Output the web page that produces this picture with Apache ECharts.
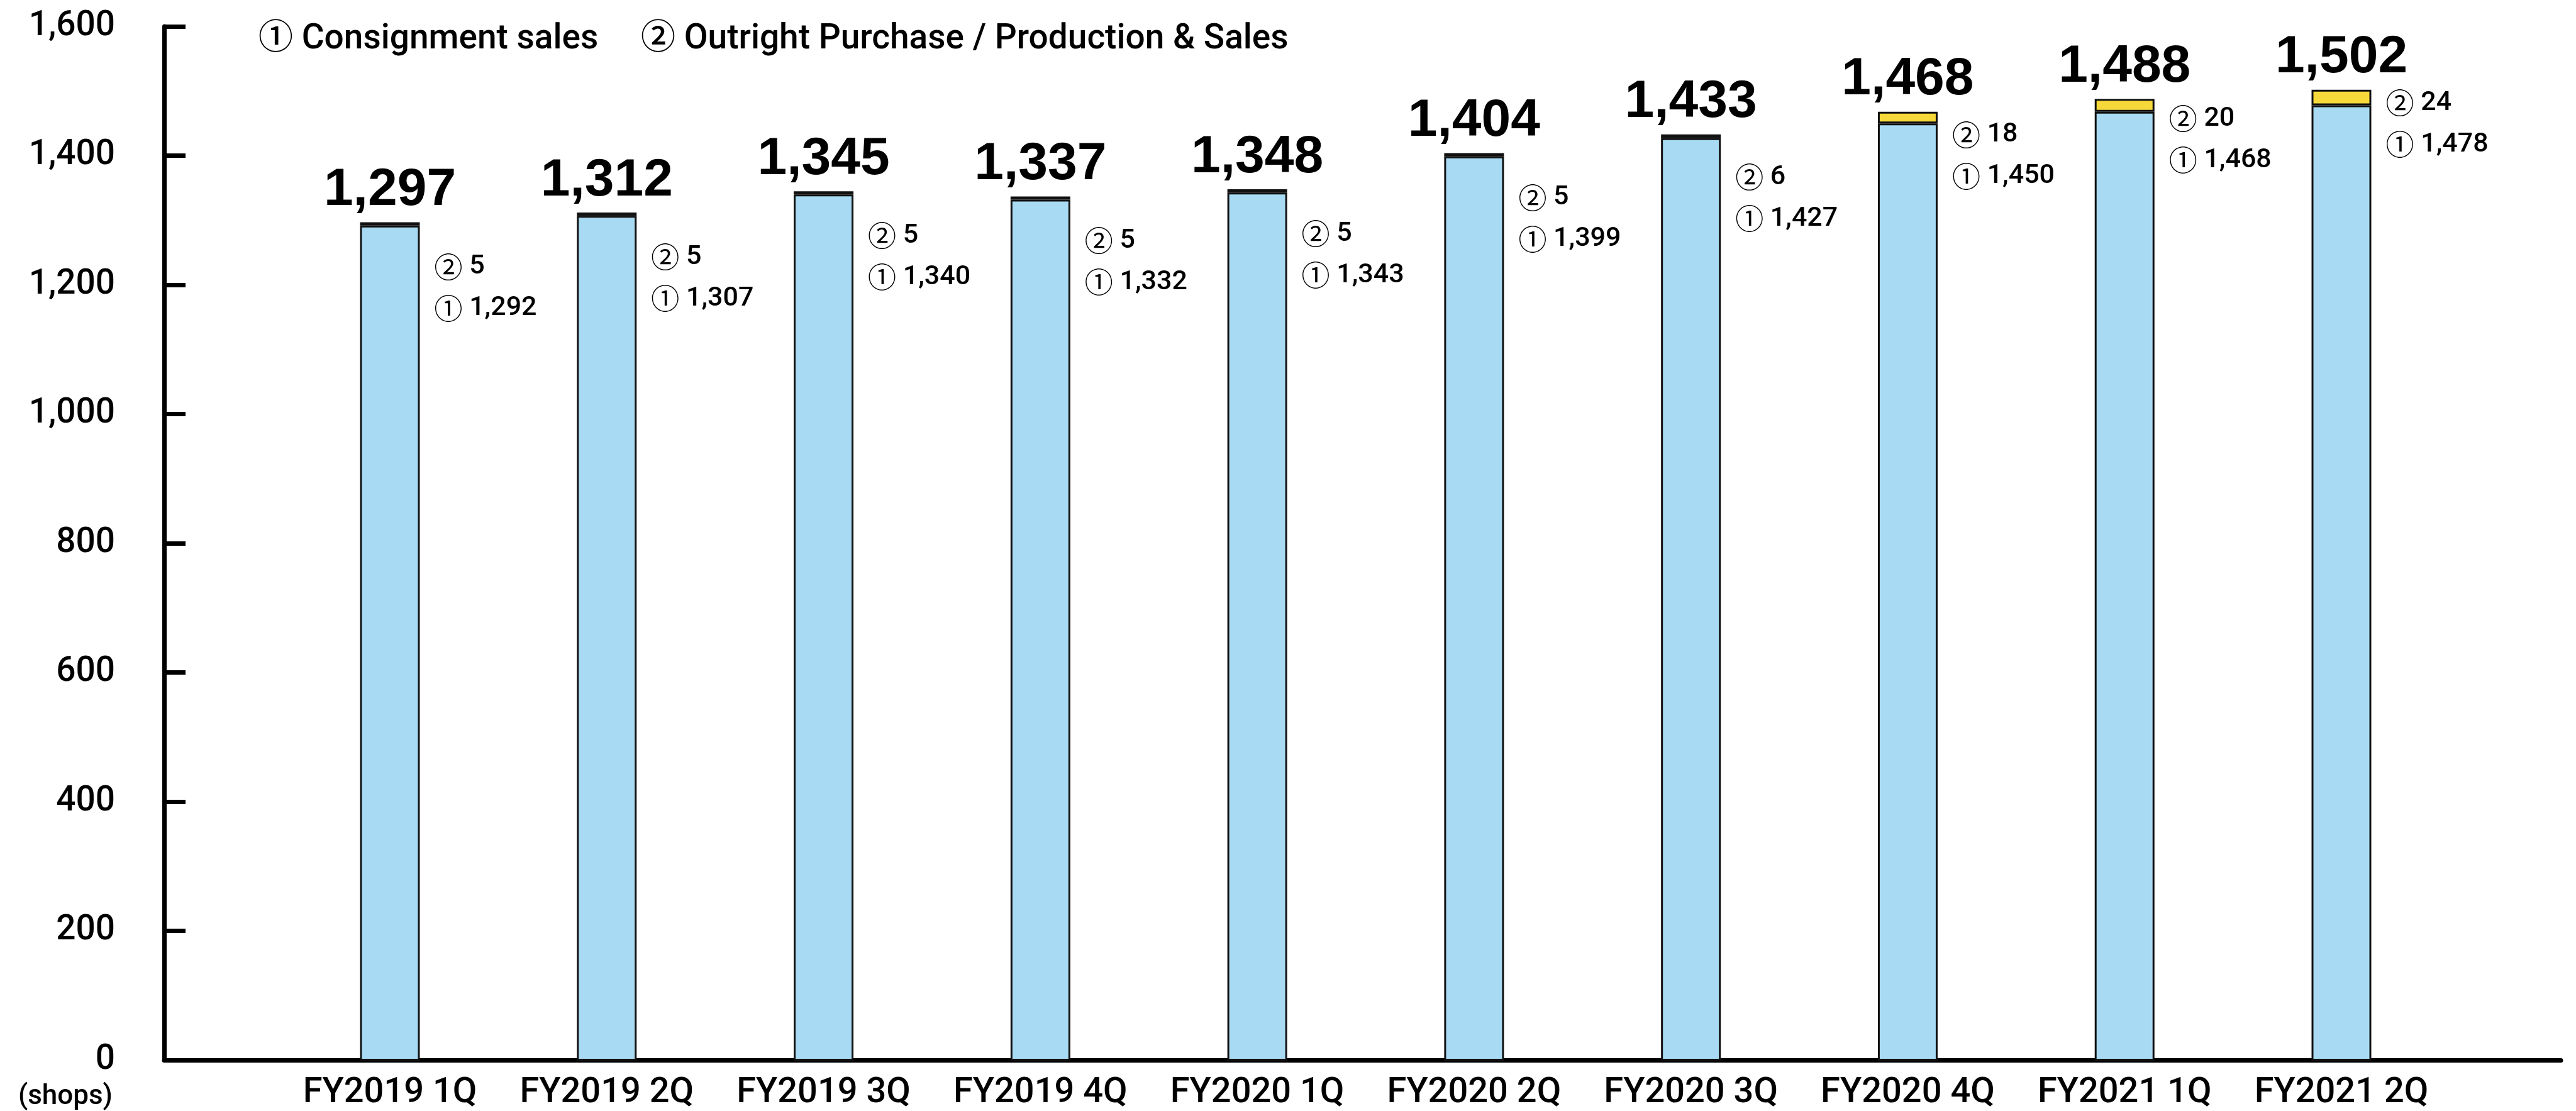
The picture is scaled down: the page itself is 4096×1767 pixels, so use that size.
<!DOCTYPE html>
<html>
<head>
<meta charset="utf-8">
<title>Number of shops</title>
<script src="https://cdn.jsdelivr.net/npm/echarts@6/dist/echarts.min.js"></script>
<style>
  html, body { margin: 0; padding: 0; background: #fff; }
  #chart { width: 4096px; height: 1767px; }
</style>
</head>
<body>
<div id="chart"></div>
<script>
// Quarters on the horizontal axis
const categories = ['FY2019 1Q', 'FY2019 2Q', 'FY2019 3Q', 'FY2019 4Q', 'FY2020 1Q',
                    'FY2020 2Q', 'FY2020 3Q', 'FY2020 4Q', 'FY2021 1Q', 'FY2021 2Q'];
// ① Consignment sales shops
const consignment = [1292, 1307, 1340, 1332, 1343, 1399, 1427, 1450, 1468, 1478];
// ② Outright purchase / production & sales shops
const outright = [5, 5, 5, 5, 5, 5, 6, 18, 20, 24];
// Value axis ticks
const yMin = 0;
const yMax = 1600;
const yStep = 200;
const seriesNames = ['① Consignment sales', '② Outright Purchase / Production & Sales'];
const unitLabel = '(shops)';

const totals = consignment.map((v, i) => v + outright[i]);
const fmt = v => Number(v).toLocaleString('en-US');

const FONT = 'Roboto, "Noto Sans CJK JP", sans-serif';
const TOTAL_FONT = '"Liberation Sans", Arial, sans-serif';
const CIRCLE_FONT = '"Noto Sans CJK JP", sans-serif';

const chart = echarts.init(document.getElementById('chart'), null, { renderer: 'canvas' });

const legendText = { fontFamily: FONT, fontSize: 55, fontWeight: 500, color: '#000', lineHeight: 56 };

chart.setOption({
  animation: false,
  backgroundColor: '#fff',
  legend: [
    { data: [seriesNames[0]], left: 400, top: 30, itemWidth: 0, itemHeight: 0,
      selectedMode: false, textStyle: legendText },
    { data: [seriesNames[1]], left: 1008, top: 30, itemWidth: 0, itemHeight: 0,
      selectedMode: false, textStyle: legendText }
  ],
  grid: [
    // frame with the axis lines
    { left: 261, right: 24, top: 42, bottom: 79 },
    // plotting area for the quarterly columns
    { left: 447.6, right: 200.6, top: 42, bottom: 79 }
  ],
  xAxis: [
    { gridIndex: 0, type: 'value', min: 0, max: 1,
      axisLine: { show: true, lineStyle: { color: '#000', width: 7 } },
      axisTick: { show: false }, axisLabel: { show: false }, splitLine: { show: false } },
    { gridIndex: 1, type: 'category', data: categories,
      axisLine: { show: false }, axisTick: { show: false }, splitLine: { show: false },
      axisLabel: { interval: 0, margin: 24, fontFamily: FONT, fontSize: 56, fontWeight: 500, color: '#000' } }
  ],
  yAxis: [
    { gridIndex: 0, type: 'value', min: yMin, max: yMax, interval: yStep,
      axisLine: { show: true, lineStyle: { color: '#000', width: 7 } },
      axisTick: { show: true, inside: true, length: 34, lineStyle: { color: '#000', width: 7 } },
      splitLine: { show: false },
      axisLabel: { margin: 78, fontFamily: FONT, fontSize: 55, fontWeight: 500, color: '#000',
                   formatter: v => fmt(v) },
      name: unitLabel, nameLocation: 'start', nameGap: 59,
      nameTextStyle: { align: 'right', verticalAlign: 'middle', padding: [0, 82, 0, 0],
                       fontFamily: FONT, fontSize: 44, fontWeight: 500, color: '#000' } },
    { gridIndex: 1, type: 'value', min: yMin, max: yMax, interval: yStep, show: false }
  ],
  series: [
    {
      name: seriesNames[0], type: 'bar', xAxisIndex: 1, yAxisIndex: 1, stack: 'shops',
      data: consignment, barWidth: 95,
      itemStyle: { color: '#a8dbf3', borderColor: '#111', borderWidth: 3 }
    },
    {
      name: seriesNames[1], type: 'bar', xAxisIndex: 1, yAxisIndex: 1, stack: 'shops',
      data: outright, barWidth: 95,
      itemStyle: { color: '#f6d83a', borderColor: '#111', borderWidth: 3 },
      label: {
        show: true,
        position: ['100%', '-254%'],
        offset: [23, 51],
        align: 'left',
        verticalAlign: 'top',
        formatter: p => '{n|②}{v| ' + fmt(outright[p.dataIndex]) + '}\n{n|①}{v| ' +
                        fmt(consignment[p.dataIndex]) + '}',
        rich: {
          n: { fontFamily: CIRCLE_FONT, fontSize: 45, fontWeight: 400, lineHeight: 66, color: '#000' },
          v: { fontFamily: FONT, fontSize: 43, fontWeight: 500, lineHeight: 66, color: '#000' }
        }
      }
    },
    {
      // totals printed above each column
      type: 'scatter', xAxisIndex: 1, yAxisIndex: 1, data: totals,
      symbolSize: 1, itemStyle: { color: 'rgba(0,0,0,0)', opacity: 1 }, silent: true, z: 5,
      label: { show: true, position: 'top', distance: 8, formatter: p => fmt(p.value),
               fontFamily: TOTAL_FONT, fontSize: 84, fontWeight: 'bold', color: '#000',
               textBorderWidth: 0 }
    }
  ]
});
</script>
</body>
</html>
